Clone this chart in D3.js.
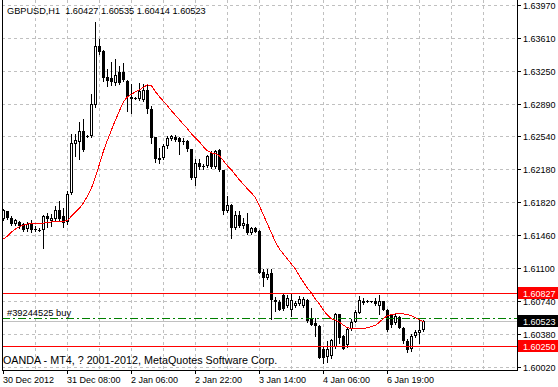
<!DOCTYPE html>
<html><head><meta charset="utf-8">
<script src="https://cdn.jsdelivr.net/npm/d3@7"></script>
<style>
html,body{margin:0;padding:0;background:#fff;}
svg{display:block;}
text{font-family:"Liberation Sans",Arial,sans-serif;white-space:pre;}
</style></head><body>
<svg id="c" width="558" height="387"></svg>
<script>
const symbolName = "GBPUSD,H1";
const lastQuote = ["1.60427","1.60535","1.60414","1.60523"];

const open = [1.61632,1.61723,1.61652,1.61584,1.61608,1.61578,1.61523,1.61586,1.61526,1.61521,
1.61512,1.61668,1.61619,1.61635,1.61734,1.61668,1.61606,1.61919,1.62457,1.62479,
1.62595,1.62541,1.62541,1.62879,1.63517,1.63468,1.63177,1.63170,1.63111,1.63231,
1.63231,1.63141,1.62966,1.62955,1.62937,1.62930,1.63039,1.62832,1.62525,1.62304,
1.62298,1.62432,1.62505,1.62530,1.62516,1.62486,1.62486,1.62396,1.62086,1.62246,
1.62208,1.62214,1.62355,1.62203,1.62385,1.62167,1.61723,1.61788,1.61534,1.61679,
1.61559,1.61584,1.61486,1.61541,1.61505,1.61061,1.60995,1.61050,1.60759,1.60733,
1.60812,1.60686,1.60650,1.60686,1.60705,1.60686,1.60749,1.60552,1.60504,1.60468,
1.60225,1.60130,1.60141,1.60239,1.60596,1.60359,1.60261,1.60435,1.60517,1.60613,
1.60719,1.60741,1.60735,1.60741,1.60692,1.60738,1.60650,1.60588,1.60504,1.60566,
1.60450,1.60305,1.60217,1.60359,1.60392,1.60427];
const high = [1.61745,1.61728,1.61663,1.61635,1.61619,1.61592,1.61599,1.61625,1.61559,1.61534,
1.61674,1.61701,1.61690,1.61777,1.61832,1.61755,1.61941,1.62563,1.62563,1.62697,
1.62726,1.62546,1.62999,1.63785,1.63599,1.63479,1.63272,1.63341,1.63378,1.63305,
1.63330,1.63152,1.63105,1.62966,1.63119,1.63105,1.63105,1.62868,1.62530,1.62410,
1.62454,1.62541,1.62552,1.62552,1.62525,1.62514,1.62497,1.62399,1.62290,1.62290,
1.62235,1.62334,1.62377,1.62388,1.62399,1.62170,1.61886,1.61799,1.61723,1.61723,
1.61646,1.61701,1.61548,1.61548,1.61515,1.61090,1.61090,1.61090,1.60785,1.60752,
1.60817,1.60812,1.60814,1.60741,1.60795,1.60790,1.60770,1.60668,1.60559,1.60479,
1.60239,1.60305,1.60326,1.60610,1.60605,1.60370,1.60457,1.60545,1.60643,1.60795,
1.60774,1.60752,1.60746,1.60774,1.60806,1.60746,1.60654,1.60599,1.60596,1.60577,
1.60457,1.60326,1.60381,1.60425,1.60539,1.60535];
const low = [1.61625,1.61635,1.61575,1.61570,1.61543,1.61501,1.61501,1.61499,1.61505,1.61505,
1.61319,1.61548,1.61559,1.61625,1.61625,1.61548,1.61581,1.61908,1.62323,1.62290,
1.62377,1.62530,1.62530,1.62857,1.63435,1.63141,1.63086,1.63097,1.63097,1.63103,
1.63141,1.62814,1.62795,1.62939,1.62930,1.62923,1.62795,1.62468,1.62257,1.62250,
1.62290,1.62413,1.62497,1.62486,1.62341,1.62454,1.62377,1.62072,1.62006,1.62181,
1.62181,1.62203,1.62192,1.62192,1.62159,1.61687,1.61712,1.61431,1.61526,1.61548,
1.61537,1.61469,1.61472,1.61494,1.61046,1.60905,1.60981,1.60545,1.60632,1.60643,
1.60643,1.60675,1.60577,1.60675,1.60697,1.60675,1.60512,1.60479,1.60359,1.60119,
1.60068,1.60075,1.60119,1.60228,1.60286,1.60217,1.60239,1.60425,1.60512,1.60610,
1.60708,1.60730,1.60730,1.60697,1.60599,1.60643,1.60414,1.60457,1.60490,1.60446,
1.60283,1.60185,1.60195,1.60348,1.60283,1.60414];
const close = [1.61734,1.61646,1.61586,1.61621,1.61559,1.61512,1.61584,1.61515,1.61521,1.61512,
1.61668,1.61635,1.61646,1.61734,1.61635,1.61595,1.61911,1.62459,1.62497,1.62595,
1.62388,1.62535,1.62887,1.63523,1.63450,1.63174,1.63141,1.63122,1.63206,1.63111,
1.63149,1.62959,1.62937,1.62950,1.63032,1.63039,1.62832,1.62522,1.62287,1.62276,
1.62432,1.62514,1.62541,1.62494,1.62479,1.62481,1.62396,1.62086,1.62250,1.62197,
1.62203,1.62323,1.62203,1.62377,1.62167,1.61723,1.61788,1.61534,1.61679,1.61559,
1.61595,1.61486,1.61534,1.61497,1.61050,1.60995,1.61032,1.60759,1.60733,1.60650,
1.60654,1.60777,1.60749,1.60722,1.60770,1.60770,1.60523,1.60487,1.60468,1.60122,
1.60122,1.60217,1.60315,1.60596,1.60341,1.60225,1.60435,1.60512,1.60621,1.60749,
1.60746,1.60735,1.60741,1.60705,1.60746,1.60650,1.60432,1.60479,1.60577,1.60450,
1.60305,1.60212,1.60359,1.60403,1.60430,1.60523];
const maValues = [1.61417,1.61450,1.61494,1.61526,1.61554,1.61570,1.61581,1.61586,1.61589,1.61589,
1.61592,1.61597,1.61603,1.61605,1.61608,1.61610,1.61619,1.61668,1.61712,1.61755,
1.61810,1.61886,1.61974,1.62094,1.62235,1.62377,1.62497,1.62606,1.62715,1.62814,
1.62912,1.62966,1.62994,1.63021,1.63043,1.63070,1.63097,1.63086,1.63021,1.62966,
1.62917,1.62868,1.62814,1.62765,1.62715,1.62666,1.62617,1.62563,1.62519,1.62475,
1.62421,1.62377,1.62355,1.62345,1.62323,1.62268,1.62214,1.62170,1.62115,1.62061,
1.62012,1.61963,1.61919,1.61865,1.61777,1.61679,1.61581,1.61483,1.61385,1.61308,
1.61254,1.61199,1.61145,1.61090,1.61014,1.60948,1.60883,1.60828,1.60763,1.60708,
1.60643,1.60588,1.60550,1.60534,1.60512,1.60479,1.60452,1.60441,1.60439,1.60439,
1.60443,1.60452,1.60463,1.60479,1.60512,1.60555,1.60583,1.60596,1.60602,1.60602,
1.60602,1.60594,1.60583,1.60561,1.60539,1.60517];

const priceTicks = ["1.63970","1.63610","1.63250","1.62890","1.62540","1.62180",
                    "1.61820","1.61460","1.61100","1.60740","1.60380","1.60020"];
const timeLabels = ["30 Dec 2012","31 Dec 08:00","2 Jan 06:00","2 Jan 22:00",
                    "3 Jan 14:00","4 Jan 06:00","6 Jan 19:00"];
const timeLabelBars = [0,16,32,48,64,80,96];
const levelLines = [1.60827, 1.60250];
const bidPrice = 1.60523;
const orderPrice = 1.60555;
const orderLabel = "#39244525 buy";
const copyrightText = "OANDA - MT4, ? 2001-2012, MetaQuotes Software Corp.";

const svg = d3.select("#c");
const plotL = 2, plotR = 517, plotB = 370;
const n = close.length;
const x = d3.scaleLinear().domain([0, n - 1]).range([3.5, 3.5 + 4 * (n - 1)]);
const y = d3.scaleLinear().domain([1.60020, 1.63970]).range([367.4, 4.6]);
const py = v => Math.round(y(v)) + 0.5;
const gridColor = "#c0c0c0";

// grid
const g = svg.append("g").attr("shape-rendering", "crispEdges");
priceTicks.forEach(t => {
  g.append("line").attr("x1", plotL).attr("x2", plotR).attr("y1", py(+t)).attr("y2", py(+t))
    .attr("stroke", gridColor).attr("stroke-dasharray", "3,3");
});
const vIdx = d3.range(8, 200, 8).filter(i => x(i) < plotR - 3);
vIdx.forEach(i => {
  g.append("line").attr("x1", x(i)).attr("x2", x(i)).attr("y1", 0).attr("y2", plotB)
    .attr("stroke", gridColor).attr("stroke-dasharray", "3,3");
});

// bid line (behind candles)
g.append("line").attr("x1", plotL).attr("x2", plotR).attr("y1", py(bidPrice)).attr("y2", py(bidPrice))
  .attr("stroke", "#c0c0c0");

// candles
const cg = svg.append("g").attr("shape-rendering", "crispEdges");
d3.range(n).forEach(i => {
  const cx = x(i);
  cg.append("line").attr("x1", cx).attr("x2", cx)
    .attr("y1", Math.round(y(high[i]))).attr("y2", Math.round(y(low[i])) + 1)
    .attr("stroke", "#000");
  const yo = Math.round(y(open[i])), yc = Math.round(y(close[i]));
  const top = Math.min(yo, yc), h = Math.abs(yo - yc);
  if (close[i] < open[i]) {
    cg.append("rect").attr("x", cx - 1.5).attr("y", top).attr("width", 3).attr("height", Math.max(1, h))
      .attr("fill", "#000");
  } else if (h <= 1) {
    cg.append("rect").attr("x", cx - 1.5).attr("y", top).attr("width", 3).attr("height", 1)
      .attr("fill", "#000");
  } else {
    cg.append("rect").attr("x", cx - 1).attr("y", top + 0.5).attr("width", 2).attr("height", h - 1)
      .attr("fill", "#fff").attr("stroke", "#000");
  }
});

// moving average
svg.append("path").datum(maValues)
  .attr("d", d3.line().x((d, i) => x(i)).y(d => y(d)))
  .attr("fill", "none").attr("stroke", "#ff0000").attr("stroke-width", 1)
  .attr("shape-rendering", "crispEdges");

// level lines
const lg = svg.append("g").attr("shape-rendering", "crispEdges");
levelLines.forEach(p => {
  lg.append("line").attr("x1", plotL).attr("x2", plotR).attr("y1", py(p)).attr("y2", py(p))
    .attr("stroke", "#ff0000");
});
lg.append("line").attr("x1", plotL).attr("x2", plotR).attr("y1", py(orderPrice)).attr("y2", py(orderPrice))
  .attr("stroke", "#008000").attr("stroke-dasharray", "8,3,2,3");

// frame / axes
const ag = svg.append("g").attr("shape-rendering", "crispEdges").attr("stroke", "#000");
ag.append("line").attr("x1", 2.5).attr("x2", 2.5).attr("y1", 0).attr("y2", plotB + 1);
ag.append("line").attr("x1", plotR + 0.5).attr("x2", plotR + 0.5).attr("y1", 0).attr("y2", plotB + 1);
ag.append("line").attr("x1", 2).attr("x2", plotR + 1).attr("y1", plotB + 0.5).attr("y2", plotB + 0.5);

// right price axis
priceTicks.forEach(t => {
  ag.append("line").attr("x1", plotR).attr("x2", plotR + 4).attr("y1", py(+t)).attr("y2", py(+t));
  svg.append("text").attr("x", 523).attr("y", py(+t) + 3.5).attr("font-size", "9px")
    .attr("fill", "#000").text(t);
});

// bottom time axis
timeLabelBars.forEach((b, k) => {
  ag.append("line").attr("x1", x(b)).attr("x2", x(b)).attr("y1", plotB).attr("y2", plotB + 4);
  svg.append("text").attr("x", x(b) - 0.5).attr("y", 383).attr("font-size", "9px")
    .attr("fill", "#000").text(timeLabels[k]);
});

// price boxes
function priceBox(p, color, label) {
  const cy = py(p);
  svg.append("rect").attr("x", plotR + 1).attr("y", cy - 6.5).attr("width", 41).attr("height", 12)
    .attr("fill", color).attr("shape-rendering", "crispEdges");
  svg.append("text").attr("x", 523).attr("y", cy + 3.5).attr("font-size", "9px")
    .attr("fill", "#fff").text(label);
}
priceBox(levelLines[0], "#ff0000", levelLines[0].toFixed(5));
priceBox(bidPrice, "#000000", bidPrice.toFixed(5));
priceBox(levelLines[1], "#ff0000", levelLines[1].toFixed(5));

// texts
svg.append("text").attr("x", 7).attr("y", 14).attr("font-size", "9.2px").attr("fill", "#000")
  .text(symbolName + "  " + lastQuote.join(" "));
svg.append("text").attr("x", 7).attr("y", 316).attr("font-size", "9.3px").attr("fill", "#000")
  .text(orderLabel);
svg.append("text").attr("x", 3).attr("y", 364).attr("font-size", "10.75px").attr("fill", "#000")
  .text(copyrightText);
</script>
</body></html>
